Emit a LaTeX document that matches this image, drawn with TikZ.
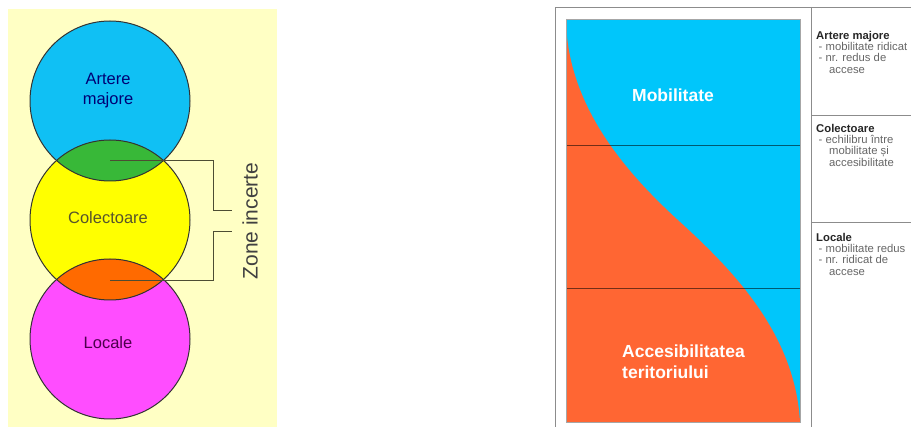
\documentclass[tikz,border=0pt]{standalone}
\usepackage{fontspec}
\setmainfont{Liberation Sans}
\usepackage{tikz}
\usetikzlibrary{positioning, calc}

\definecolor{paper}{HTML}{FFFFC4}
\definecolor{artcol}{HTML}{10C0F4}
\definecolor{colcol}{HTML}{FFFF00}
\definecolor{loccol}{HTML}{FF4DFF}
\definecolor{lensup}{HTML}{38B838}
\definecolor{lensdn}{HTML}{FF6A00}
\definecolor{mobcol}{HTML}{00C6FB}
\definecolor{acccol}{HTML}{FF6633}
\definecolor{wire}{HTML}{4D4D33}

\begin{document}
\begin{tikzpicture}[
    x=1pt, y=-1pt,
    zone/.style={circle, minimum size=160pt, inner sep=0pt},
    rim/.style={draw=black!80, line width=1pt},
    zonetext/.style={align=center, inner sep=0pt, font=\fontsize{16.5}{20}\selectfont},
    bracket/.style={draw=wire, line width=0.9pt},
    bigtext/.style={text=white, inner sep=0pt, align=left, font=\bfseries\fontsize{17.5}{21}\selectfont},
    note/.style={anchor=north west, inner sep=0pt, align=left, text=black!60, font=\fontsize{11.3}{11.3}\selectfont},
    frame/.style={draw=black!45, line width=0.8pt}
]
\useasboundingbox (0,0) rectangle (911,427);

% Left panel
\fill[paper] (8,9) rectangle (277,427);

\node[zone, fill=artcol] (artere) at (110,101) {};
\node[zone, fill=colcol] (colect) at (110,220) {};
\node[zone, fill=loccol] (locale) at (110,339) {};

\begin{scope}
    \clip (artere.center) circle (80);
    \fill[lensup] (colect.center) circle (80);
\end{scope}
\begin{scope}
    \clip (colect.center) circle (80);
    \fill[lensdn] (locale.center) circle (80);
\end{scope}

\draw[rim] (artere.center) circle (80);
\draw[rim] (colect.center) circle (80);
\draw[rim] (locale.center) circle (80);

\node[zonetext, text=blue!45!black] (tart) at (108,91) {Artere\\majore};
\node[zonetext, text=olive!50!black] (tcol) at (108,218) {Colectoare};
\node[zonetext, text=violet!60!black] (tloc) at (108,343) {Locale};

% Brackets
\coordinate (lensA) at (110,160);
\coordinate (lensB) at (110,280);
\coordinate (tipA) at (232,210);
\coordinate (tipB) at (232,231);
\draw[bracket] (lensA) -- ++(103,0) |- (tipA);
\draw[bracket] (lensB) -- ++(103,0) |- (tipB);
\node[rotate=90, text=black!75, inner sep=0pt, font=\fontsize{21}{24}\selectfont] (zone) at (250,221) {Zone incerte};

% Right panel
\fill[mobcol] (566,19) rectangle (800,422);
\fill[acccol] (566,19) .. controls (567,105) and (625,172) .. (680,222)
    .. controls (735,272) and (795,335) .. (800,422) -- (566,422) -- cycle;
\draw[black, opacity=0.55, line width=1pt] (566,146) -- (800,146);
\draw[black, opacity=0.55, line width=1pt] (566,289) -- (800,289);
\draw[black!35, line width=0.5pt] (566,19) rectangle (800,422);

\node[bigtext] (mob) at (673,95) {Mobilitate};
\node[bigtext, anchor=west] (acc) at (622,362) {Accesibilitatea\\teritoriului};

% Frame
\draw[frame] (555,427) -- (555,7) -- (911,7);
\draw[frame] (811,7) -- (811,427);
\draw[frame] (811,115) -- (911,115);
\draw[frame] (811,222) -- (911,222);

\node[note] (nart) at (816,31) {\textcolor{black!85}{\textbf{Artere majore}}\\\hspace*{2.5pt}- mobilitate ridicat\\\hspace*{2.5pt}- nr. redus de\\\hspace*{13pt}accese};
\node[note] (ncol) at (816,124) {\textcolor{black!85}{\textbf{Colectoare}}\\\hspace*{2.5pt}- echilibru între\\\hspace*{13pt}mobilitate și\\\hspace*{13pt}accesibilitate};
\node[note] (nloc) at (816,233) {\textcolor{black!85}{\textbf{Locale}}\\\hspace*{2.5pt}- mobilitate redus\\\hspace*{2.5pt}- nr. ridicat de\\\hspace*{13pt}accese};
\end{tikzpicture}
\end{document}
